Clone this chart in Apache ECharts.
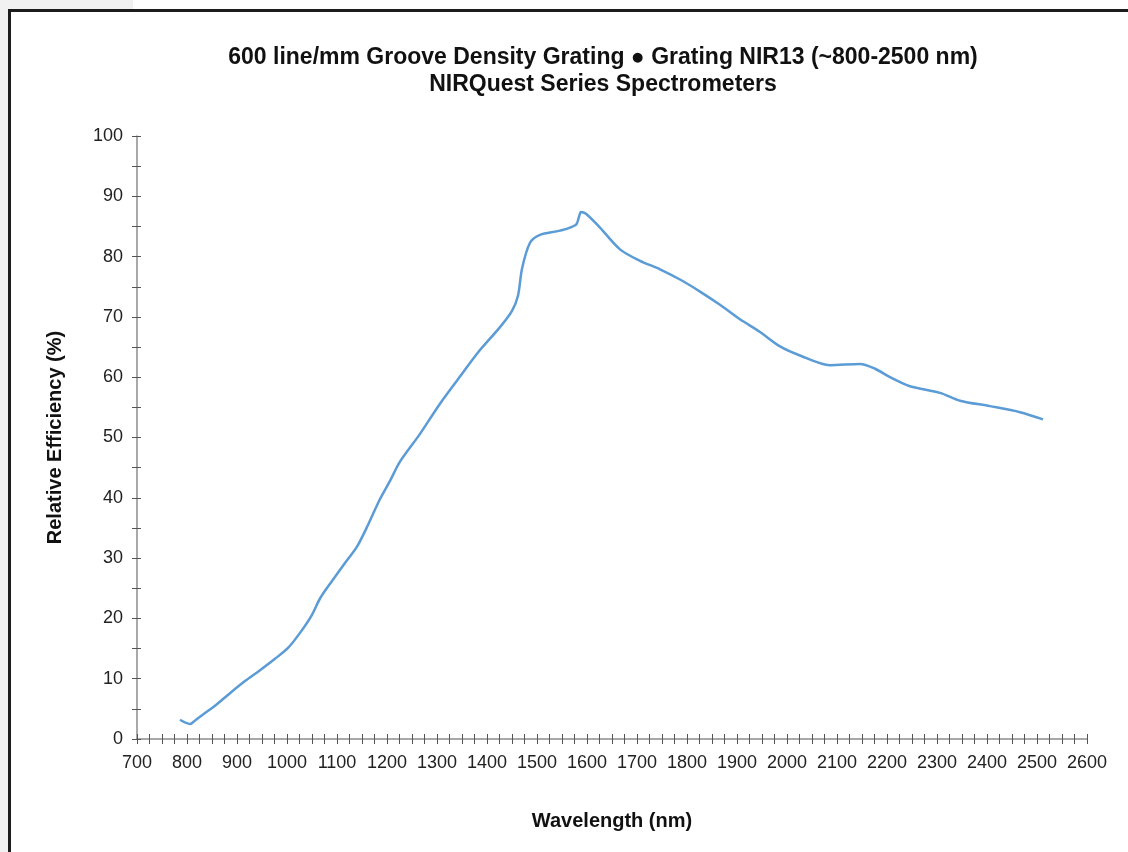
<!DOCTYPE html>
<html>
<head>
<meta charset="utf-8">
<script src="https://cdn.jsdelivr.net/npm/echarts@6/dist/echarts.min.js"></script>
<style>
html,body{margin:0;padding:0;background:#fff;}
#chart{width:1128px;height:852px;}
</style>
</head>
<body>
<div id="chart"></div>
<script>
const titleLine1 = "600 line/mm Groove Density Grating \u25CF Grating NIR13 (~800-2500 nm)";
const titleLine2 = "NIRQuest Series Spectrometers";
const xName = "Wavelength (nm)";
const yName = "Relative Efficiency (%)";

const wavelength = [786, 806, 818, 836, 856, 886, 916, 946, 976, 1002, 1026, 1050, 1066, 1090, 1116, 1140, 1162, 1186, 1206, 1226, 1266, 1306, 1346, 1382, 1426, 1450, 1462, 1470, 1486, 1506, 1546, 1578, 1584, 1588, 1598, 1626, 1666, 1706, 1746, 1786, 1826, 1866, 1906, 1946, 1986, 2026, 2086, 2146, 2176, 2206, 2246, 2306, 2346, 2406, 2466, 2512];
const efficiency = [3.2, 2.5, 3.2, 4.3, 5.5, 7.6, 9.6, 11.4, 13.3, 15.1, 17.6, 20.6, 23.3, 26.2, 29.2, 31.9, 35.5, 39.8, 42.8, 46.0, 50.6, 55.6, 60.1, 64.1, 68.3, 71.0, 73.5, 78.0, 82.3, 83.6, 84.3, 85.3, 86.6, 87.4, 87.1, 84.8, 81.2, 79.3, 77.9, 76.2, 74.2, 72.0, 69.6, 67.5, 65.1, 63.6, 62.0, 62.2, 61.4, 60.0, 58.5, 57.4, 56.1, 55.2, 54.2, 53.0];

const points = wavelength.map((w, i) => [w, efficiency[i]]);

const chart = echarts.init(document.getElementById('chart'), null, {renderer: 'canvas'});
const font = "'Liberation Sans', Arial, Helvetica, sans-serif";
const axisGray = '#8c8c8c';
const tickColor = '#555';

chart.setOption({
  backgroundColor: '#ffffff',
  animation: false,
  graphic: [
    {type: 'rect', shape: {x: 0, y: 0, width: 133, height: 9}, style: {fill: '#f1f1f1'}, z: -10},
    {type: 'rect', shape: {x: 0, y: 0, width: 8, height: 852}, style: {fill: '#f1f1f1'}, z: -10},
    {type: 'rect', shape: {x: 8, y: 9, width: 1120, height: 3}, style: {fill: '#1c1c1c'}, z: -9},
    {type: 'rect', shape: {x: 8, y: 9, width: 3, height: 843}, style: {fill: '#1c1c1c'}, z: -9}
  ],
  title: {
    text: titleLine1 + '\n' + titleLine2,
    left: 598,
    textAlign: 'center',
    top: 39,
    textStyle: {fontFamily: font, fontWeight: 'bold', fontSize: 23, color: '#111', lineHeight: 27}
  },
  grid: {left: 137, right: 41, top: 136, bottom: 113, containLabel: false},
  xAxis: [
    {
      type: 'value', min: 700, max: 2600, interval: 100,
      name: xName, nameLocation: 'middle', nameGap: 72,
      nameTextStyle: {fontFamily: font, fontWeight: 'bold', fontSize: 20, color: '#111'},
      axisLine: {show: true, lineStyle: {color: axisGray, width: 1.5}},
      axisTick: {show: true, inside: false, length: 5, lineStyle: {color: tickColor, width: 1}},
      minorTick: {show: true, splitNumber: 4, length: 5, lineStyle: {color: tickColor, width: 1}},
      axisLabel: {fontFamily: font, fontSize: 18, color: '#222', margin: 15, formatter: v => String(v)},
      splitLine: {show: false}
    },
    {
      type: 'value', min: 700, max: 2600, interval: 100, position: 'bottom',
      axisLine: {show: false},
      axisTick: {show: true, inside: true, length: 5, lineStyle: {color: tickColor, width: 1}},
      minorTick: {show: true, splitNumber: 4, length: 5, lineStyle: {color: tickColor, width: 1}},
      axisLabel: {show: false},
      splitLine: {show: false}
    }
  ],
  yAxis: [
    {
      type: 'value', min: 0, max: 100, interval: 10,
      name: yName, nameLocation: 'middle', nameGap: 72, nameRotate: 90,
      nameTextStyle: {fontFamily: font, fontWeight: 'bold', fontSize: 20, color: '#111'},
      axisLine: {show: true, lineStyle: {color: axisGray, width: 1.5}},
      axisTick: {show: true, inside: false, length: 5, lineStyle: {color: tickColor, width: 1}},
      minorTick: {show: true, splitNumber: 2, length: 5, lineStyle: {color: tickColor, width: 1}},
      axisLabel: {fontFamily: font, fontSize: 18, color: '#222', margin: 14},
      splitLine: {show: false}
    },
    {
      type: 'value', min: 0, max: 100, interval: 10, position: 'left',
      axisLine: {show: false},
      axisTick: {show: true, inside: true, length: 4, lineStyle: {color: tickColor, width: 1}},
      minorTick: {show: true, splitNumber: 2, length: 4, lineStyle: {color: tickColor, width: 1}},
      axisLabel: {show: false},
      splitLine: {show: false}
    }
  ],
  series: [{
    type: 'line',
    data: points,
    xAxisIndex: 0, yAxisIndex: 0,
    smooth: 0.3,
    showSymbol: false,
    lineStyle: {color: '#5b9bd6', width: 2.5},
    silent: true
  }]
});
</script>
</body>
</html>
